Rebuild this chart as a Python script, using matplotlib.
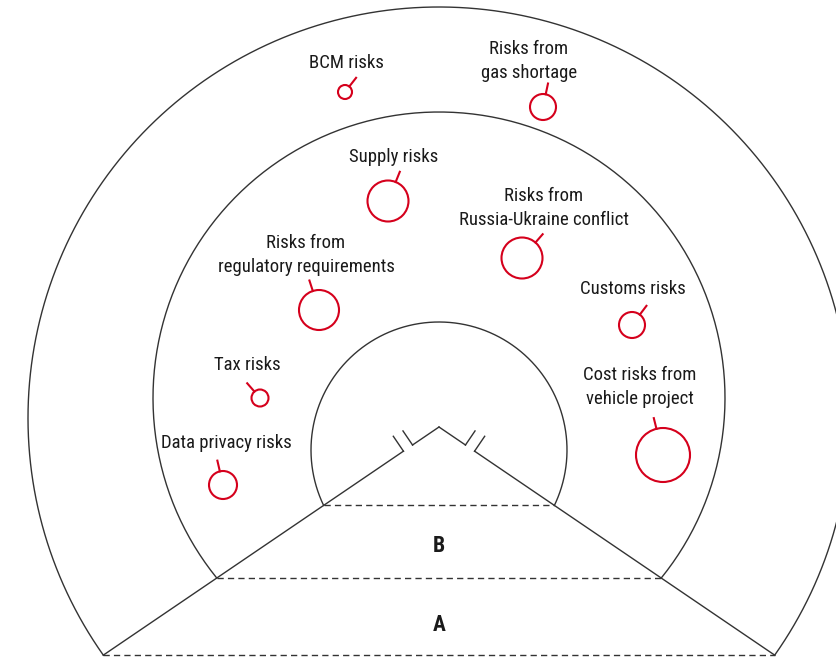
import numpy as np
import matplotlib
matplotlib.use("Agg")
import matplotlib.pyplot as plt
from matplotlib import font_manager
from matplotlib.font_manager import FontProperties
from matplotlib.patches import Circle

# Riesgos: nombre, posicion en el mapa (px), tamano (radio) y direccion del trazo
riesgos = [
    "BCM risks",
    "Risks from\ngas shortage",
    "Supply risks",
    "Risks from\nRussia-Ukraine conflict",
    "Risks from\nregulatory requirements",
    "Customs risks",
    "Tax risks",
    "Cost risks from\nvehicle project",
    "Data privacy risks",
]
riesgo_x = [345, 543, 388, 522, 319, 632, 260, 663, 223]
riesgo_y = [92, 107, 201, 258, 310, 325, 398, 455, 485]
riesgo_radio = [7, 13, 20.5, 20.5, 20, 13, 8.5, 27, 14]
trazo_angulo = [38, 12, 22, 41, -18, 37, -41, -14, -13]
etiqueta_x = [346, 529, 394, 544, 306, 633, 247, 640, 226]
etiqueta_y = [63, 61, 157, 208, 255, 289, 365, 387, 443]

# Zonas: centro y radio de cada arco
zona_nombres = ["A", "B"]
zona_texto_y = [625, 546]
arco_cx = [439, 439, 439]
arco_cy = [418, 398, 450]
arco_r = [411, 286, 128]

ROJO = "#d5001c"
GRIS = "#333333"
TEXTO = "#1a1a1a"


def buscar_fuente(claves, bold=False):
    # busca un archivo de fuente estrecha instalada
    for clave in claves:
        for f in font_manager.fontManager.ttflist:
            nombre = (f.fname.split("/")[-1]).lower()
            if clave in nombre and ("bold" in nombre) == bold and "italic" not in nombre \
                    and "oblique" not in nombre and "light" not in nombre \
                    and "thin" not in nombre and "medium" not in nombre \
                    and "black" not in nombre and "semi" not in nombre:
                return FontProperties(fname=f.fname)
    return FontProperties(family="DejaVu Sans", stretch="condensed",
                          weight="bold" if bold else "normal")


claves = ["robotocondensed", "roboto_condensed", "liberationsansnarrow",
          "dejavusanscondensed", "opensanscondensed"]
fuente = buscar_fuente(claves)
fuente_bold = buscar_fuente(claves, bold=True)

fig = plt.figure(figsize=(8.36, 6.58), dpi=100)
ax = fig.add_axes([0, 0, 1, 1])
ax.set_xlim(0, 836)
ax.set_ylim(658, 0)
ax.axis("off")

# Cono: vertice y angulo de los bordes
apex = np.array([439.0, 427.0])
ang = np.radians(34.2)


def corte_borde(cx, cy, r):
    # distancia t sobre el borde izquierdo donde corta el circulo
    d = np.array([-np.cos(ang), np.sin(ang)])
    w = apex - np.array([cx, cy])
    b = 2 * np.dot(w, d)
    c = np.dot(w, w) - r ** 2
    t = (-b + np.sqrt(b * b - 4 * c)) / 2
    return t


cortes = []
for cx, cy, r in zip(arco_cx, arco_cy, arco_r):
    t = corte_borde(cx, cy, r)
    px = apex[0] - t * np.cos(ang)
    py = apex[1] + t * np.sin(ang)
    cortes.append((px, py, t))
    phi = np.arctan2(py - cy, px - cx)
    th = np.linspace(phi, 3 * np.pi - phi, 400)
    ax.plot(cx + r * np.cos(th), cy + r * np.sin(th), color=GRIS, lw=1.0)
    # linea discontinua entre los dos bordes
    ax.plot([px, 2 * cx - px], [py, py], color=GRIS, lw=1.0,
            linestyle=(0, (4.5, 3)))

# Bordes del cono con simbolo de corte
t_out = cortes[0][2]
for s in (-1, 1):
    d = np.array([s * np.cos(ang), np.sin(ang)])
    n = np.array([s * np.sin(ang), -np.cos(ang)])
    p1 = apex + 32 * d
    p2 = apex + 43 * d
    fin = apex + t_out * d
    ax.plot([apex[0], p1[0]], [apex[1], p1[1]], color=GRIS, lw=1.0)
    ax.plot([p1[0], p1[0] + 17 * n[0]], [p1[1], p1[1] + 17 * n[1]], color=GRIS, lw=1.0)
    ax.plot([p2[0], p2[0] + 18 * n[0]], [p2[1], p2[1] + 18 * n[1]], color=GRIS, lw=1.0)
    ax.plot([p2[0], fin[0]], [p2[1], fin[1]], color=GRIS, lw=1.0)

# Riesgos
for nombre, x, y, r, a, lx, ly in zip(riesgos, riesgo_x, riesgo_y, riesgo_radio,
                                      trazo_angulo, etiqueta_x, etiqueta_y):
    ax.add_patch(Circle((x, y), r, fill=False, edgecolor=ROJO, lw=1.5))
    u = np.array([np.sin(np.radians(a)), -np.cos(np.radians(a))])
    p0 = np.array([x, y]) + r * u
    p1 = np.array([x, y]) + (r + 11) * u
    ax.plot([p0[0], p1[0]], [p0[1], p1[1]], color=ROJO, lw=1.5)
    ax.text(lx, ly, nombre, ha="center", va="center", fontsize=13.5,
            fontproperties=fuente, color=TEXTO, linespacing=1.45)

for z, zy in zip(zona_nombres, zona_texto_y):
    ax.text(439, zy, z, ha="center", va="center", fontsize=15.5,
            fontproperties=fuente_bold, color=TEXTO)

fig.savefig("out.png", dpi=100)
